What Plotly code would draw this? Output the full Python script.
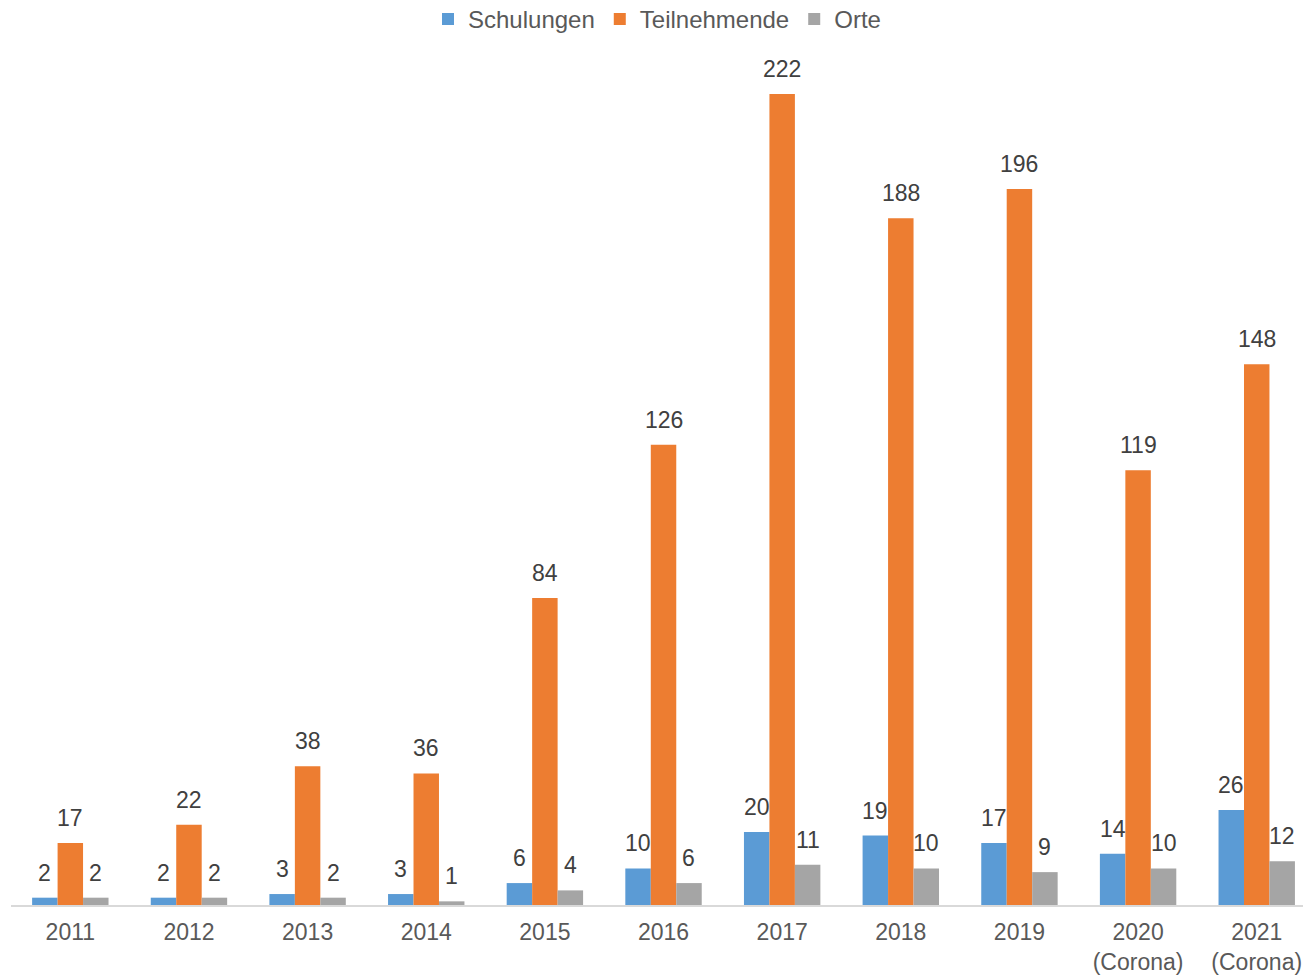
import plotly.graph_objects as go

years = ["2011", "2012", "2013", "2014", "2015", "2016", "2017", "2018", "2019",
         "2020<br>(Corona)", "2021<br>(Corona)"]
schulungen = [2, 2, 3, 3, 6, 10, 20, 19, 17, 14, 26]
teilnehmende = [17, 22, 38, 36, 84, 126, 222, 188, 196, 119, 148]
orte = [2, 2, 2, 1, 4, 6, 11, 10, 9, 10, 12]

series = [
    ("Schulungen", schulungen, "#5B9BD5"),
    ("Teilnehmende", teilnehmende, "#ED7D31"),
    ("Orte", orte, "#A5A5A5"),
]

W, H = 1303, 975
ML, MR, MT, MB = 11, 0, 45, 70
XRANGE = [-0.5, 10.39]
BARGAP = 0.356
FONT = "Liberation Sans, Arial, sans-serif"

# pixel width of one bar, derived from layout settings
cat_px = (W - ML - MR) / (XRANGE[1] - XRANGE[0])
bar_px = cat_px * (1 - BARGAP) / len(series)

fig = go.Figure()
annotations = []
for k, (name, vals, col) in enumerate(series):
    fig.add_trace(go.Bar(
        name=name, x=years, y=vals, marker=dict(color=col, line=dict(width=0)),
    ))
    for i, v in enumerate(vals):
        annotations.append(dict(
            x=i, y=v, xref="x", yref="y", text=str(v), showarrow=False,
            xanchor="center", yanchor="middle",
            xshift=(k - 1) * bar_px, yshift=25,
            font=dict(family=FONT, size=23, color="#404040"),
        ))

fig.update_layout(
    width=W, height=H,
    margin=dict(l=ML, r=MR, t=MT, b=MB, autoexpand=False),
    paper_bgcolor="white", plot_bgcolor="white",
    barmode="group", bargap=BARGAP, bargroupgap=0,
    font=dict(family=FONT, size=24, color="#595959"),
    legend=dict(orientation="h", x=0.5, xanchor="center", y=1.056, yanchor="top",
                yref="paper", font=dict(size=24, color="#595959"),
                traceorder="normal", itemwidth=30),
    annotations=annotations,
    showlegend=True,
)
fig.update_xaxes(range=XRANGE, showline=True, linecolor="#D9D9D9", linewidth=2,
                 ticks="", showgrid=False, tickfont=dict(size=23, color="#595959"),
                 ticklabelstandoff=5, automargin=False)
fig.update_yaxes(range=[0, 235.4], visible=False, showgrid=False, automargin=False)

fig.write_html("out.html", config={"displayModeBar": False},
               post_script="document.body.style.margin='0';document.body.style.overflow='hidden';")
